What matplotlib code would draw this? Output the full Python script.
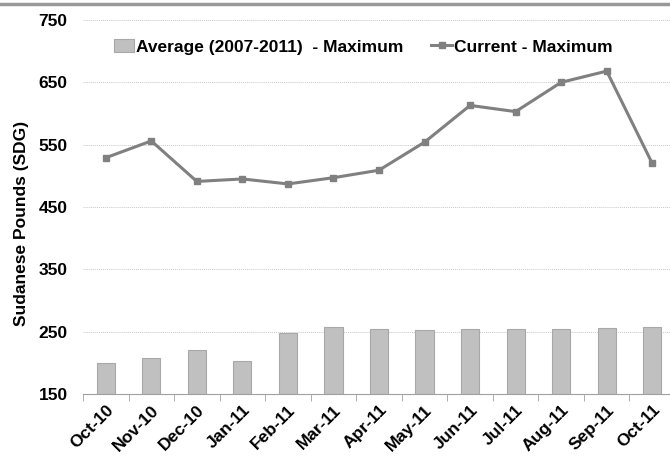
import matplotlib
matplotlib.use("Agg")
import matplotlib.pyplot as plt
from matplotlib.lines import Line2D
from matplotlib.ticker import FixedLocator

months = ["Oct-10", "Nov-10", "Dec-10", "Jan-11", "Feb-11", "Mar-11", "Apr-11",
          "May-11", "Jun-11", "Jul-11", "Aug-11", "Sep-11", "Oct-11"]
average_max = [199, 208, 221, 203, 248, 258, 254, 253, 254, 254, 254, 256, 257]
current_max = [529, 556, 491, 495, 487, 497, 509, 554, 613, 603, 650, 668, 520]
yticks = [150, 250, 350, 450, 550, 650, 750]

plt.rcParams['font.family'] = ['Liberation Sans', 'DejaVu Sans']
FS = 12.5

fig = plt.figure(figsize=(6.7, 4.57), dpi=100)
ax = fig.add_axes([83/670, 63/457, 592/670, 374/457])

x = list(range(len(months)))
bars = ax.bar(x, [v - 150 for v in average_max], bottom=150, width=0.4,
              color='#c0c0c0', edgecolor='#a8a8a8', linewidth=0.8, zorder=2,
              label='Average (2007-2011)  - Maximum')
line, = ax.plot(x, current_max, color='#808080', linewidth=2.2, marker='s',
                markersize=5, zorder=3, label='Current - Maximum')

ax.set_xlim(-0.5, len(months) - 0.5)
ax.set_ylim(150, 750)
ax.set_yticks(yticks)
ax.set_yticklabels([str(t) for t in yticks], fontsize=FS, fontweight='bold')
ax.set_xticks(x)
ax.set_xticklabels(months, rotation=45, ha='right', rotation_mode='anchor',
                   fontsize=FS, fontweight='bold')
ax.xaxis.set_minor_locator(FixedLocator([i - 0.5 for i in range(len(months) + 1)]))
ax.tick_params(axis='x', which='major', length=0, pad=6)
ax.tick_params(axis='x', which='minor', length=5, color='#a0a0a0', direction='out')
ax.tick_params(axis='y', length=0, pad=11)

ax.grid(axis='y', linestyle=(0, (1, 1)), color='#c8c8c8', linewidth=0.7, zorder=0)
for s in ['top', 'right', 'left']:
    ax.spines[s].set_visible(False)
ax.spines['bottom'].set_color('#a0a0a0')
ax.set_axisbelow(True)

ax.set_ylabel('Sudanese Pounds (SDG)', fontsize=FS, fontweight='bold')
ax.yaxis.set_label_coords(-0.092, 0.457)

ax.legend(handles=[bars, line], loc='center', bbox_to_anchor=(363/592 - 83/592, 1 - 27/374),
          ncol=2, frameon=False, prop={'size': FS, 'weight': 'bold'},
          handlelength=1.2, handletextpad=0.1, columnspacing=1.6)

fig.add_artist(Line2D([0, 1], [1 - 4/457, 1 - 4/457], transform=fig.transFigure,
                      color='#999999', linewidth=2.5))

fig.savefig('out.png', dpi=100)
